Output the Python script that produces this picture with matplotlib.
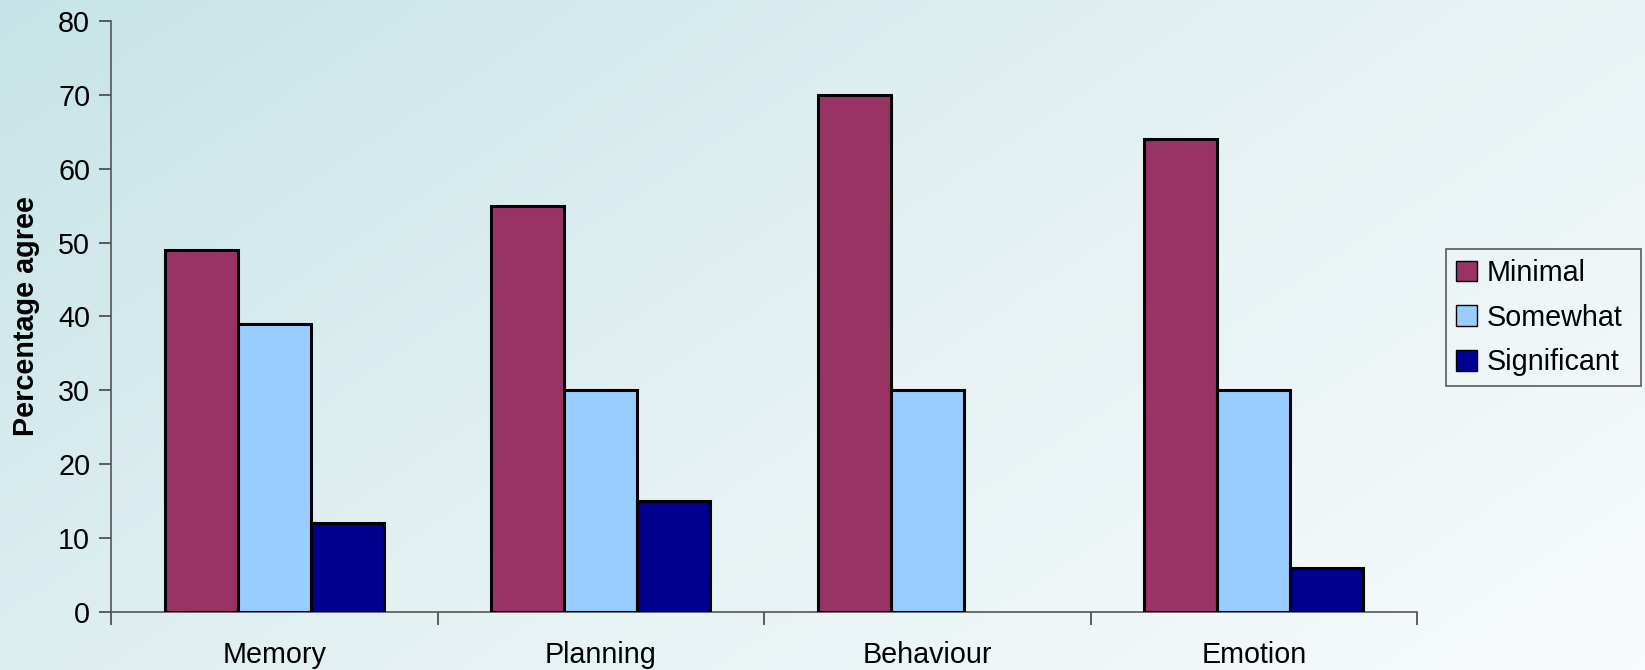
import numpy as np
import matplotlib
matplotlib.use("Agg")
import matplotlib.pyplot as plt
from matplotlib.colors import LinearSegmentedColormap

categories = ["Memory", "Planning", "Behaviour", "Emotion"]
series_names = ["Minimal", "Somewhat", "Significant"]
minimal = [49, 55, 70, 64]
somewhat = [39, 30, 30, 30]
significant = [12, 15, 0, 6]
y_ticks = [0, 10, 20, 30, 40, 50, 60, 70, 80]

colors = ["#993366", "#99CCFF", "#000090"]

plt.rcParams["font.family"] = ["Liberation Sans", "DejaVu Sans"]
FS = 20.7

fig = plt.figure(figsize=(16.45, 6.70), dpi=100)

# diagonal gradient background
bg = fig.add_axes([0, 0, 1, 1], zorder=-10)
gx, gy = np.meshgrid(np.linspace(0, 1, 400), np.linspace(0, 1, 200))
grad = 0.62 * gx + 0.38 * gy
cmap = LinearSegmentedColormap.from_list("bg", ["#c6e4e7", "#e4f1f3", "#f8fbfc"])
bg.imshow(grad, cmap=cmap, aspect="auto", extent=[0, 1, 0, 1], origin="upper")
bg.set_axis_off()

ax = fig.add_axes([0.0675, 0.0866, 0.7939, 0.8821])
ax.set_facecolor("none")

x = np.arange(len(categories))
w = 0.224
data = [minimal, somewhat, significant]
for i, (vals, name, c) in enumerate(zip(data, series_names, colors)):
    bars = ax.bar(x + (i - 1) * w, vals, width=w, color=c, edgecolor="black",
                  linewidth=2.2, label=name, zorder=3)
    for b, v in zip(bars, vals):
        if v == 0:
            b.set_linewidth(0)

ax.set_xlim(-0.5, len(categories) - 0.5)
ax.set_ylim(0, 80)
ax.set_yticks(y_ticks)
ax.set_yticklabels([str(t) for t in y_ticks], fontsize=FS)

# category separators as ticks, labels centred between them
ax.set_xticks(np.arange(len(categories) + 1) - 0.5)
ax.set_xticklabels([])
ax.set_xticks(x, minor=True)
ax.set_xticklabels(categories, minor=True, fontsize=FS)
ax.tick_params(axis="x", which="major", length=9, width=1.2, color="#444444", direction="out")
ax.tick_params(axis="x", which="minor", length=0, pad=21)
ax.tick_params(axis="y", length=9, width=1.2, color="#444444", direction="out", pad=6)

for s in ["top", "right"]:
    ax.spines[s].set_visible(False)
for s in ["left", "bottom"]:
    ax.spines[s].set_color("#555555")
    ax.spines[s].set_linewidth(1.2)

ax.set_ylabel("Percentage agree", fontsize=FS, fontweight="bold", labelpad=13)

leg = fig.legend(loc="upper left", bbox_to_anchor=(0.879, 0.6284, 0.1185, 0.0), mode="expand",
                 fontsize=FS, frameon=True, fancybox=False, handlelength=0.72, handleheight=0.72,
                 handletextpad=0.35, labelspacing=0.58, borderpad=0.35, borderaxespad=0)
leg.get_frame().set_edgecolor("#333333")
leg.get_frame().set_facecolor("none")
leg.get_frame().set_linewidth(1.2)
for h in leg.legend_handles:
    h.set_linewidth(1.0)

fig.savefig("out.png", dpi=100)
